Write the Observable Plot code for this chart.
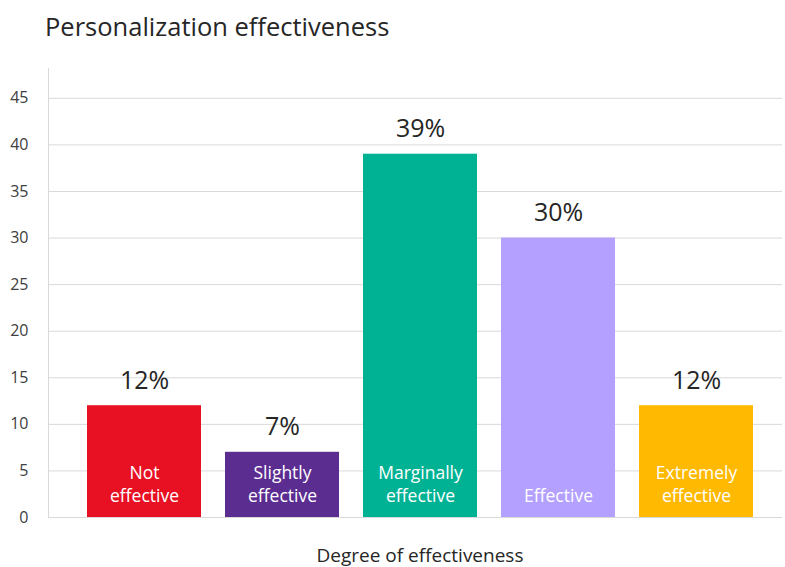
<!DOCTYPE html>
<html>
<head>
<meta charset="utf-8">
<script src="https://cdn.jsdelivr.net/npm/d3@7"></script>
<script src="https://cdn.jsdelivr.net/npm/@observablehq/plot@0.6"></script>
<style>
  html, body { margin: 0; padding: 0; background: #fff; }
  body { width: 785px; height: 567px; overflow: hidden; font-family: "Segoe UI", "Open Sans", sans-serif; }
  #title { height: 60px; box-sizing: border-box; padding: 8px 0 0 45px; font-size: 25.5px; line-height: 36px; color: #262626; }
  #xlabel { text-align: center; padding-left: 55px; margin-top: 15px; font-size: 19px; line-height: 22px; color: #262626; }
  svg { display: block; }
</style>
</head>
<body>
<div id="title">Personalization effectiveness</div>
<div id="chart"></div>
<div id="xlabel">Degree of effectiveness</div>
<script>
// Share of respondents by how effective they rate personalization (%)
const categories = ["Not\neffective", "Slightly\neffective", "Marginally\neffective", "Effective", "Extremely\neffective"];
const values = [12, 7, 39, 30, 12];
const colors = ["#E81123", "#5C2D91", "#00B294", "#B4A0FF", "#FFB900"];
const yTicks = [0, 5, 10, 15, 20, 25, 30, 35, 40, 45];

const data = categories.map((c, i) => ({category: c, value: values[i], color: colors[i]}));

const chart = Plot.plot({
  width: 785,
  height: 469,
  marginTop: 8,
  marginBottom: 12,
  marginLeft: 48,
  marginRight: 3,
  style: {fontFamily: "'Segoe UI', 'Open Sans', sans-serif", background: "#fff"},
  x: {domain: categories, paddingInner: 0.175, paddingOuter: 0.245, align: 0.575, axis: null},
  y: {domain: [0, 48.2], ticks: yTicks, axis: null},
  color: {type: "identity"},
  marks: [
    Plot.gridY(yTicks, {stroke: "#d9d9d9", strokeOpacity: 1}),
    Plot.frame({anchor: "left", stroke: "#d9d9d9"}),
    Plot.axisY(yTicks, {tickSize: 0, tickPadding: 20, fontSize: 16, fill: "#404040", label: null}),
    Plot.barY(data, {x: "category", y: "value", fill: "color"}),
    Plot.text(data, {x: "category", y: "value", text: d => d.value + "%", dy: -25, fontSize: 25, fill: "#262626"}),
    Plot.text(data, {x: "category", y: 0, text: "category", lineAnchor: "bottom", dy: -16, fontSize: 17.5, lineHeight: 1.26, fill: "#fff"})
  ]
});
document.getElementById("chart").append(chart);
</script>
</body>
</html>
